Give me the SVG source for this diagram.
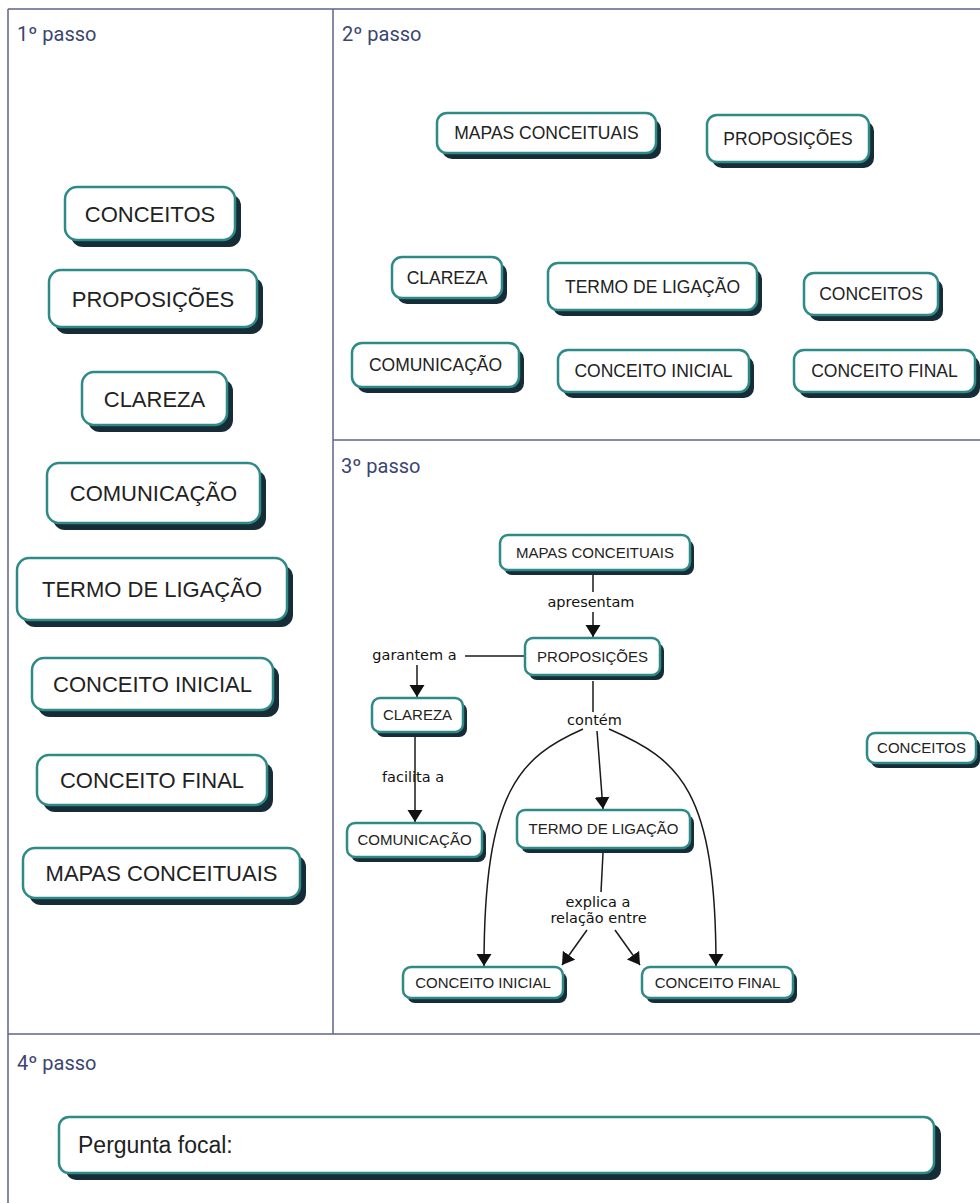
<svg xmlns="http://www.w3.org/2000/svg" width="980" height="1203" viewBox="0 0 980 1203">
<defs>
<style>
.frame{stroke:#5d648a;stroke-width:1.5;fill:none}
.hd{font-family:Roboto,"Liberation Sans",sans-serif;font-size:20px;font-weight:400;fill:#3b4670}
.box{fill:#ffffff;stroke:#2e8a87;stroke-width:2.5}
.sh{fill:#162c36}
.t{font-family:"Liberation Sans",Arial,sans-serif;fill:#222;text-anchor:middle}
.f1{font-size:22px}
.f2{font-size:17.5px}
.f3{font-size:15px}
.lbl{font-family:"DejaVu Sans",Verdana,sans-serif;font-size:14.5px;fill:#111;text-anchor:middle}
.ln{stroke:#1a1a1a;stroke-width:1.5;fill:none}
.arr{stroke:#1a1a1a;stroke-width:1.5;fill:none;marker-end:url(#ah)}
</style>
<marker id="ah" markerUnits="userSpaceOnUse" markerWidth="14" markerHeight="16" refX="12" refY="7.5" orient="auto">
<path d="M0,0 L12,7.5 L0,15 Z" fill="#111"/>
</marker>
</defs>
<rect width="980" height="1203" fill="#ffffff"/>
<g id="table">
<line class="frame" x1="8" y1="9" x2="980" y2="9"/>
<line class="frame" x1="8" y1="9" x2="8" y2="1203"/>
<line class="frame" x1="333" y1="9" x2="333" y2="1034"/>
<line class="frame" x1="333" y1="440" x2="980" y2="440"/>
<line class="frame" x1="8" y1="1034" x2="980" y2="1034"/>
<text class="hd" x="17" y="41">1º passo</text>
<text class="hd" x="342" y="41">2º passo</text>
<text class="hd" x="341" y="473">3º passo</text>
<text class="hd" x="17" y="1070">4º passo</text>
</g>
<g id="step1">
<g id="s1-conceitos"><rect class="sh" x="71" y="194" width="170" height="53" rx="12"/><rect class="box" x="65" y="187" width="170" height="53" rx="12"/><text class="t f1" x="150" y="221.5">CONCEITOS</text></g>
<g id="s1-proposicoes"><rect class="sh" x="55" y="277" width="208" height="57" rx="12"/><rect class="box" x="49" y="270" width="208" height="57" rx="12"/><text class="t f1" x="153" y="306.5">PROPOSIÇÕES</text></g>
<g id="s1-clareza"><rect class="sh" x="88" y="379" width="145" height="53" rx="12"/><rect class="box" x="82" y="372" width="145" height="53" rx="12"/><text class="t f1" x="154.5" y="406.5">CLAREZA</text></g>
<g id="s1-comunicacao"><rect class="sh" x="53" y="470" width="213" height="60" rx="12"/><rect class="box" x="47" y="463" width="213" height="60" rx="12"/><text class="t f1" x="153.5" y="501">COMUNICAÇÃO</text></g>
<g id="s1-termo"><rect class="sh" x="23" y="565" width="270" height="62" rx="12"/><rect class="box" x="17" y="558" width="270" height="62" rx="12"/><text class="t f1" x="152" y="597">TERMO DE LIGAÇÃO</text></g>
<g id="s1-inicial"><rect class="sh" x="38" y="665" width="241" height="52" rx="12"/><rect class="box" x="32" y="658" width="241" height="52" rx="12"/><text class="t f1" x="152.5" y="692">CONCEITO INICIAL</text></g>
<g id="s1-final"><rect class="sh" x="43" y="762" width="230" height="50" rx="12"/><rect class="box" x="37" y="755" width="230" height="50" rx="12"/><text class="t f1" x="152" y="788">CONCEITO FINAL</text></g>
<g id="s1-mapas"><rect class="sh" x="29" y="855" width="277" height="50" rx="12"/><rect class="box" x="23" y="848" width="277" height="50" rx="12"/><text class="t f1" x="161.5" y="881">MAPAS CONCEITUAIS</text></g>
</g>
<g id="step2">
<g id="s2-mapas"><rect class="sh" x="442" y="119" width="219" height="40" rx="10"/><rect class="box" x="437" y="113" width="219" height="40" rx="10"/><text class="t f2" x="546.5" y="139.3">MAPAS CONCEITUAIS</text></g>
<g id="s2-proposicoes"><rect class="sh" x="712" y="121" width="162" height="47" rx="10"/><rect class="box" x="707" y="115" width="162" height="47" rx="10"/><text class="t f2" x="788" y="144.8">PROPOSIÇÕES</text></g>
<g id="s2-clareza"><rect class="sh" x="397" y="263" width="110" height="41" rx="10"/><rect class="box" x="392" y="257" width="110" height="41" rx="10"/><text class="t f2" x="447" y="283.8">CLAREZA</text></g>
<g id="s2-termo"><rect class="sh" x="553" y="269" width="209" height="47" rx="10"/><rect class="box" x="548" y="263" width="209" height="47" rx="10"/><text class="t f2" x="652.5" y="292.8">TERMO DE LIGAÇÃO</text></g>
<g id="s2-conceitos"><rect class="sh" x="809" y="279" width="134" height="42" rx="10"/><rect class="box" x="804" y="273" width="134" height="42" rx="10"/><text class="t f2" x="871" y="300.3">CONCEITOS</text></g>
<g id="s2-comunicacao"><rect class="sh" x="357" y="349" width="167" height="44" rx="10"/><rect class="box" x="352" y="343" width="167" height="44" rx="10"/><text class="t f2" x="435.5" y="371.3">COMUNICAÇÃO</text></g>
<g id="s2-inicial"><rect class="sh" x="563" y="356" width="191" height="42" rx="10"/><rect class="box" x="558" y="350" width="191" height="42" rx="10"/><text class="t f2" x="653.5" y="377.3">CONCEITO INICIAL</text></g>
<g id="s2-final"><rect class="sh" x="799" y="356" width="181" height="42" rx="10"/><rect class="box" x="794" y="350" width="181" height="42" rx="10"/><text class="t f2" x="884.5" y="377.3">CONCEITO FINAL</text></g>
</g>
<g id="connectors">
<line class="ln" x1="593" y1="574" x2="593" y2="592"/>
<line class="arr" x1="593" y1="612" x2="593" y2="637"/>
<line class="ln" x1="525" y1="656" x2="465" y2="656"/>
<line class="arr" x1="417" y1="665" x2="417" y2="697"/>
<line class="arr" x1="415" y1="737" x2="415" y2="822"/>
<line class="ln" x1="593" y1="681" x2="593" y2="712"/>
<line class="arr" x1="597" y1="731" x2="603" y2="809"/>
<path class="arr" d="M583,729 C520,757 484,790 484,966"/>
<path class="arr" d="M609,729 C680,760 716,790 716,966"/>
<line class="ln" x1="603" y1="853" x2="601" y2="892"/>
<line class="arr" x1="587" y1="930" x2="562" y2="965"/>
<line class="arr" x1="615" y1="930" x2="640" y2="965"/>
<text class="lbl" x="591" y="607">apresentam</text>
<text class="lbl" x="414.5" y="660">garantem a</text>
<text class="lbl" x="413" y="782">facilita a</text>
<text class="lbl" x="594.5" y="725">contém</text>
<text class="lbl" x="598" y="907">explica a</text>
<text class="lbl" x="598.5" y="923">relação entre</text>
</g>
<g id="step3">
<g id="s3-mapas"><rect class="sh" x="504" y="540" width="190" height="35" rx="8"/><rect class="box" x="500" y="535" width="190" height="35" rx="8"/><text class="t f3" x="595" y="557.9">MAPAS CONCEITUAIS</text></g>
<g id="s3-proposicoes"><rect class="sh" x="529" y="643" width="135" height="37" rx="8"/><rect class="box" x="525" y="638" width="135" height="37" rx="8"/><text class="t f3" x="592.5" y="661.9">PROPOSIÇÕES</text></g>
<g id="s3-clareza"><rect class="sh" x="376" y="703" width="91" height="34" rx="8"/><rect class="box" x="372" y="698" width="91" height="34" rx="8"/><text class="t f3" x="417.5" y="720.4">CLAREZA</text></g>
<g id="s3-comunicacao"><rect class="sh" x="351" y="828" width="135" height="34" rx="8"/><rect class="box" x="347" y="823" width="135" height="34" rx="8"/><text class="t f3" x="414.5" y="845.4">COMUNICAÇÃO</text></g>
<g id="s3-termo"><rect class="sh" x="521" y="815" width="173" height="38" rx="8"/><rect class="box" x="517" y="810" width="173" height="38" rx="8"/><text class="t f3" x="603.5" y="834.4">TERMO DE LIGAÇÃO</text></g>
<g id="s3-inicial"><rect class="sh" x="407" y="972" width="160" height="31" rx="8"/><rect class="box" x="403" y="967" width="160" height="31" rx="8"/><text class="t f3" x="483" y="987.9">CONCEITO INICIAL</text></g>
<g id="s3-final"><rect class="sh" x="646" y="972" width="151" height="31" rx="8"/><rect class="box" x="642" y="967" width="151" height="31" rx="8"/><text class="t f3" x="717.5" y="987.9">CONCEITO FINAL</text></g>
<g id="s3-conceitos"><rect class="sh" x="871" y="738" width="109" height="30" rx="8"/><rect class="box" x="867" y="733" width="109" height="30" rx="8"/><text class="t f3" x="921.5" y="753.4">CONCEITOS</text></g>
</g>
<g id="step4">
<g id="s4-pergunta"><rect class="sh" x="66" y="1124" width="875" height="56" rx="10"/><rect class="box" x="59" y="1117" width="875" height="56" rx="10"/><text class="t" x="78" y="1153" style="text-anchor:start;font-size:23px">Pergunta focal:</text></g>
</g>
</svg>
